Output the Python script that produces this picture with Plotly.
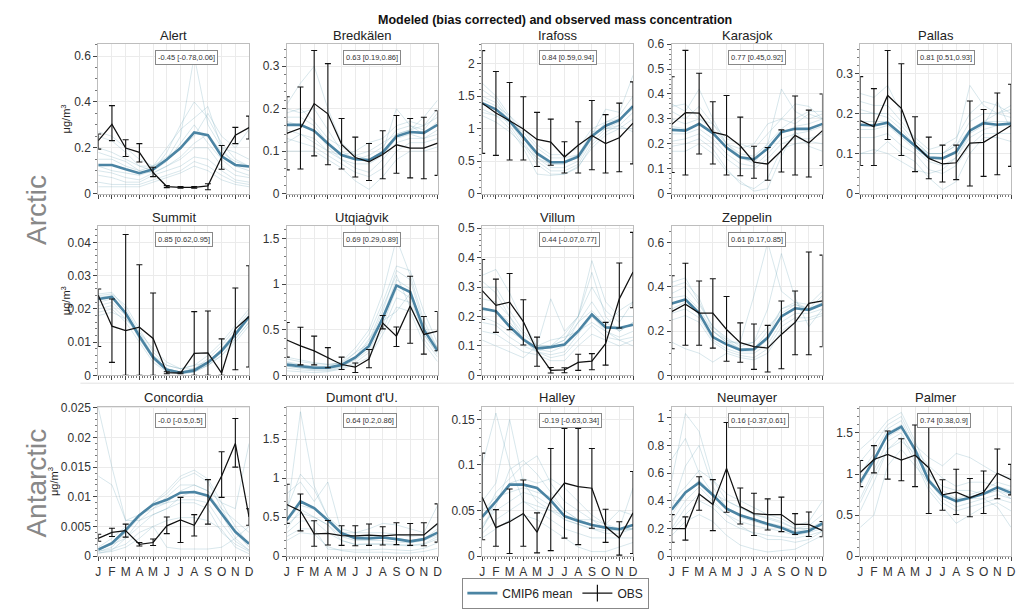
import plotly.graph_objects as go

W, H = 1019, 612
months = list(range(1, 13))
month_labels = ["J", "F", "M", "A", "M", "J", "J", "A", "S", "O", "N", "D"]

# ---------------- data ----------------
alert_obs = [0.231, 0.302, 0.199, 0.18, 0.092, 0.031, 0.027, 0.027, 0.034, 0.16, 0.255, 0.288]
alert_lo = [0.194, 0.231, 0.162, 0.138, 0.074, 0.026, 0.024, 0.024, 0.017, 0.106, 0.218, 0.238]
alert_hi = [0.26, 0.384, 0.235, 0.218, 0.115, 0.035, 0.031, 0.031, 0.043, 0.21, 0.289, 0.338]
alert_mean = [0.125, 0.125, 0.106, 0.089, 0.106, 0.149, 0.199, 0.267, 0.255, 0.163, 0.125, 0.118]
alert_models = [
    [.27, .25, .2, .15, .12, .15, .25, .6, .3, .2, .18, .15],
    [.25, .23, .18, .12, .1, .18, .3, .4, .33, .22, .15, .12],
    [.2, .18, .15, .12, .12, .2, .28, .33, .38, .2, .12, .1],
    [.15, .15, .12, .1, .12, .16, .2, .25, .35, .25, .2, .28],
    [.12, .1, .09, .08, .1, .14, .22, .3, .22, .15, .1, .08],
    [.1, .09, .07, .06, .09, .12, .15, .2, .2, .12, .08, .07],
    [.08, .07, .05, .05, .08, .1, .12, .16, .15, .1, .06, .05],
    [.05, .04, .04, .04, .06, .08, .1, .14, .12, .08, .05, .04],
    [.03, .03, .03, .03, .05, .07, .09, .12, .1, .06, .04, .03],
    [.18, .16, .14, .1, .09, .12, .16, .22, .26, .18, .14, .12],
]

bred_obs = [0.142, 0.154, 0.212, 0.188, 0.116, 0.085, 0.075, 0.092, 0.115, 0.107, 0.107, 0.119]
bred_lo = [0.056, 0.058, 0.089, 0.068, 0.058, 0.039, 0.031, 0.035, 0.048, 0.037, 0.035, 0.043]
bred_hi = [0.228, 0.251, 0.337, 0.306, 0.177, 0.133, 0.118, 0.148, 0.184, 0.177, 0.18, 0.195]
bred_mean = [0.162, 0.162, 0.148, 0.118, 0.091, 0.081, 0.079, 0.097, 0.135, 0.145, 0.143, 0.162]
bred_models = [
    [.21, .26, .3, .2, .12, .09, .08, .1, .14, .15, .18, .22],
    [.2, .19, .2, .15, .1, .08, .08, .1, .2, .16, .15, .19],
    [.18, .18, .16, .12, .09, .08, .09, .11, .15, .16, .14, .17],
    [.17, .16, .15, .11, .08, .07, .07, .09, .13, .14, .13, .15],
    [.15, .14, .13, .1, .08, .06, .05, .08, .12, .13, .13, .14],
    [.13, .12, .11, .09, .07, .05, .04, .06, .1, .12, .12, .13],
    [.1, .1, .1, .08, .06, .03, .01, .04, .08, .1, .1, .11],
    [.12, .14, .12, .1, .09, .1, .12, .13, .16, .17, .16, .18],
    [.19, .2, .17, .13, .11, .09, .1, .12, .14, .15, .16, .2],
]

ira_obs = [1.392, 1.241, 1.12, 0.995, 0.834, 0.794, 0.563, 0.744, 0.894, 0.769, 0.859, 1.085]
ira_lo = [0.62, 0.588, 0.518, 0.518, 0.417, 0.437, 0.317, 0.317, 0.367, 0.317, 0.337, 0.457]
ira_hi = [2.2, 1.88, 1.71, 1.49, 1.25, 1.146, 0.799, 1.106, 1.432, 1.216, 1.392, 1.719]
ira_mean = [1.39, 1.297, 1.12, 0.87, 0.618, 0.482, 0.482, 0.568, 0.884, 1.045, 1.131, 1.347]
ira_models = [
    [1.7, 1.5, 1.2, .9, .6, .45, .45, .6, .9, 1.3, 1.25, 1.82],
    [1.6, 1.45, 1.15, .85, .55, .4, .4, .5, .85, 1.1, 1.2, 1.5],
    [1.5, 1.4, 1.1, .8, .5, .35, .35, .45, .8, 1.0, 1.1, 1.35],
    [1.4, 1.3, 1.05, .75, .45, .3, .3, .4, .75, .95, 1.05, 1.25],
    [1.3, 1.2, 1.0, .7, .3, .28, .3, .42, .7, .9, 1.0, 1.15],
    [1.25, 1.2, 1.1, .95, .7, .55, .55, .6, .95, 1.0, 1.0, 1.0],
    [1.45, 1.35, 1.2, 1.0, .75, .6, .6, .7, 1.0, 1.1, 1.15, 1.3],
    [1.2, 1.1, .95, .75, .55, .45, .5, .6, .9, 1.0, 1.05, .95],
]

kara_obs = [0.278, 0.325, 0.323, 0.247, 0.234, 0.192, 0.126, 0.119, 0.172, 0.234, 0.203, 0.253]
kara_lo = [0.085, 0.075, 0.159, 0.119, 0.075, 0.072, 0.062, 0.054, 0.087, 0.075, 0.067, 0.113]
kara_hi = [0.469, 0.575, 0.483, 0.369, 0.394, 0.307, 0.19, 0.185, 0.256, 0.392, 0.335, 0.4]
kara_mean = [0.256, 0.253, 0.28, 0.243, 0.185, 0.146, 0.138, 0.181, 0.247, 0.26, 0.26, 0.28]
kara_models = [
    [.36, .33, .42, .3, .2, .15, .12, .2, .42, .33, .3, .32],
    [.33, .3, .35, .28, .22, .2, .18, .24, .3, .36, .35, .3],
    [.3, .28, .3, .26, .2, .16, .15, .2, .26, .3, .33, .33],
    [.27, .26, .28, .24, .18, .14, .13, .18, .24, .27, .28, .3],
    [.24, .24, .26, .22, .16, .12, .11, .16, .22, .24, .25, .27],
    [.21, .22, .24, .2, .14, .1, .1, .14, .2, .22, .22, .24],
    [.19, .2, .22, .18, .1, .04, .02, .06, .18, .2, .21, .2],
    [.17, .17, .2, .16, .09, .05, .01, .02, .15, .25, .19, .17],
    [.35, .36, .3, .28, .2, .18, .2, .28, .3, .28, .32, .3],
]

pal_obs = [0.182, 0.167, 0.245, 0.213, 0.123, 0.088, 0.074, 0.077, 0.126, 0.128, 0.149, 0.17]
pal_lo = [0.07, 0.07, 0.135, 0.095, 0.055, 0.037, 0.029, 0.035, 0.019, 0.043, 0.047, 0.068]
pal_hi = [0.292, 0.262, 0.357, 0.324, 0.192, 0.141, 0.121, 0.121, 0.231, 0.21, 0.251, 0.273]
pal_mean = [0.172, 0.17, 0.177, 0.148, 0.118, 0.09, 0.088, 0.104, 0.157, 0.176, 0.172, 0.175]
pal_models = [
    [.25, .24, .27, .2, .13, .1, .1, .13, .27, .22, .2, .22],
    [.23, .22, .22, .18, .14, .11, .12, .14, .2, .23, .22, .2],
    [.2, .2, .2, .17, .13, .1, .1, .12, .18, .2, .2, .19],
    [.18, .18, .18, .15, .12, .09, .09, .1, .16, .18, .18, .18],
    [.16, .16, .17, .14, .11, .08, .07, .09, .14, .16, .17, .17],
    [.14, .14, .15, .12, .1, .06, .05, .07, .12, .15, .15, .15],
    [.1, .1, .13, .1, .08, .04, .01, .03, .1, .14, .14, .13],
    [.1, .11, .1, .08, .06, .05, .06, .09, .15, .17, .23, .16],
    [.21, .2, .19, .16, .12, .1, .1, .12, .16, .18, .2, .21],
]

sum_obs = [0.0241, 0.0148, 0.0135, 0.0145, 0.0111, 0.0008, 0.0007, 0.0066, 0.0068, 0.0007, 0.014, 0.0177]
sum_lo = [0.0087, 0.0039, 0.0, 0.0, 0.0, 0.0005, 0.0005, 0.0, 0.0, 0.0, 0.0017, 0.0025]
sum_hi = [0.026, 0.023, 0.0424, 0.0333, 0.0248, 0.0011, 0.001, 0.0192, 0.0194, 0.011, 0.0263, 0.033]
sum_mean = [0.023, 0.0236, 0.0187, 0.0118, 0.0054, 0.0017, 0.0008, 0.0015, 0.0039, 0.0074, 0.0123, 0.0177]
sum_models = [
    [.0245, .025, .02, .013, .006, .002, .001, .002, .005, .009, .014, .019],
    [.024, .0245, .021, .014, .007, .003, .002, .003, .006, .01, .015, .02],
    [.022, .023, .019, .012, .006, .002, .001, .002, .004, .008, .013, .018],
    [.021, .022, .018, .011, .005, .001, .0005, .001, .003, .006, .011, .016],
    [.02, .021, .017, .012, .006, .003, .002, .003, .004, .007, .012, .017],
    [.019, .02, .016, .01, .004, .001, .0005, .001, .003, .006, .01, .015],
    [.0235, .024, .019, .011, .005, .002, .001, .001, .004, .008, .013, .0175],
    [.018, .019, .017, .013, .008, .004, .002, .002, .003, .007, .011, .016],
]

utq_obs = [0.388, 0.323, 0.269, 0.19, 0.119, 0.09, 0.179, 0.574, 0.431, 0.761, 0.449, 0.485]
utq_lo = [0.2, 0.115, 0.115, 0.083, 0.065, 0.032, 0.083, 0.51, 0.316, 0.352, 0.233, 0.27]
utq_hi = [0.58, 0.528, 0.431, 0.305, 0.2, 0.136, 0.284, 0.657, 0.531, 1.088, 0.646, 0.7]
utq_mean = [0.118, 0.097, 0.083, 0.083, 0.115, 0.197, 0.323, 0.628, 0.987, 0.915, 0.502, 0.269]
utq_models = [
    [.15, .12, .1, .1, .15, .3, .5, .9, 1.5, 1.1, .6, .3],
    [.2, .17, .14, .12, .14, .25, .45, .8, 1.2, 1.15, .7, .35],
    [.14, .11, .09, .09, .12, .25, .35, .7, 1.15, 1.05, .55, .3],
    [.12, .1, .08, .08, .11, .2, .3, .65, 1.05, .95, .5, .27],
    [.1, .08, .07, .07, .1, .17, .28, .55, .95, .85, .45, .23],
    [.08, .06, .05, .05, .08, .14, .25, .5, .85, .8, .4, .2],
    [.05, .04, .03, .04, .07, .12, .2, .45, .75, .7, .35, .15],
    [.18, .15, .13, .12, .13, .2, .4, .6, .7, .9, .5, .3],
    [.1, .08, .06, .06, .09, .18, .38, .75, 1.1, .75, .45, .25],
]

vil_obs = [0.288, 0.238, 0.249, 0.183, 0.083, 0.017, 0.019, 0.044, 0.048, 0.108, 0.26, 0.351]
vil_lo = [0.19, 0.146, 0.155, 0.103, 0.031, 0.008, 0.009, 0.017, 0.019, 0.035, 0.161, 0.23]
vil_hi = [0.394, 0.327, 0.346, 0.257, 0.13, 0.027, 0.026, 0.072, 0.074, 0.18, 0.382, 0.486]
vil_mean = [0.227, 0.218, 0.166, 0.122, 0.092, 0.096, 0.105, 0.15, 0.207, 0.163, 0.161, 0.172]
vil_models = [
    [.34, .36, .28, .18, .1, .1, .12, .2, .39, .25, .2, .2],
    [.3, .3, .22, .15, .1, .26, .15, .2, .35, .2, .15, .18],
    [.26, .25, .2, .14, .1, .1, .14, .2, .3, .22, .18, .25],
    [.22, .22, .18, .13, .09, .08, .1, .18, .25, .18, .15, .18],
    [.2, .18, .15, .12, .08, .07, .08, .14, .2, .15, .13, .15],
    [.18, .17, .13, .1, .08, .06, .07, .12, .17, .13, .12, .13],
    [.15, .14, .11, .08, .07, .05, .05, .1, .14, .12, .1, .12],
    [.12, .1, .08, .06, .1, .12, .13, .15, .18, .15, .12, .1],
    [.32, .28, .2, .12, .08, .1, .12, .18, .22, .17, .22, .25],
]

zep_obs = [0.288, 0.321, 0.281, 0.281, 0.207, 0.148, 0.13, 0.123, 0.185, 0.239, 0.325, 0.336]
zep_lo = [0.12, 0.136, 0.136, 0.123, 0.064, 0.059, 0.027, 0.015, 0.03, 0.093, 0.093, 0.129]
zep_hi = [0.45, 0.506, 0.426, 0.436, 0.356, 0.237, 0.232, 0.226, 0.336, 0.381, 0.557, 0.543]
zep_mean = [0.325, 0.343, 0.281, 0.173, 0.14, 0.115, 0.118, 0.17, 0.266, 0.303, 0.296, 0.321]
zep_models = [
    [.4, .42, .35, .2, .15, .15, .36, .6, .38, .33, .3, .33],
    [.37, .4, .32, .22, .17, .13, .15, .3, .55, .35, .22, .3],
    [.35, .36, .3, .2, .15, .12, .12, .2, .3, .32, .3, .36],
    [.32, .34, .28, .18, .14, .11, .11, .16, .27, .3, .3, .32],
    [.28, .3, .26, .16, .12, .1, .1, .14, .24, .28, .28, .3],
    [.25, .27, .24, .15, .11, .09, .08, .12, .22, .26, .26, .28],
    [.15, .12, .1, .06, .1, .08, .07, .1, .2, .24, .25, .27],
    [.42, .44, .33, .22, .16, .12, .12, .18, .3, .33, .32, .38],
    [.3, .33, .28, .2, .16, .14, .15, .22, .28, .32, .3, .32],
]

con_obs = [0.003, 0.004, 0.0043, 0.002, 0.0023, 0.0051, 0.0061, 0.0052, 0.0091, 0.0135, 0.019, 0.0066]
con_lo = [0.0025, 0.0033, 0.0032, 0.0017, 0.0018, 0.0038, 0.0023, 0.0034, 0.0054, 0.0099, 0.015, 0.0052]
con_hi = [0.0037, 0.0047, 0.0054, 0.0023, 0.0029, 0.0066, 0.0099, 0.007, 0.0129, 0.0176, 0.0232, 0.008]
con_mean = [0.0011, 0.0022, 0.0044, 0.0069, 0.0087, 0.0095, 0.0107, 0.0108, 0.0102, 0.0072, 0.0041, 0.0021]
con_models = [
    [.025, .015, .006, .006, .007, .008, .01, .011, .01, .008, .006, .004],
    [.0135, .012, .006, .007, .008, .009, .011, .012, .011, .009, .008, .019],
    [.001, .002, .004, .007, .009, .011, .0135, .0145, .013, .009, .005, .002],
    [.0008, .0015, .004, .0065, .009, .0105, .013, .014, .0125, .008, .004, .0015],
    [.0005, .001, .003, .006, .008, .01, .012, .012, .011, .007, .003, .001],
    [.0015, .003, .005, .007, .0085, .009, .0095, .0095, .009, .0055, .0025, .001],
    [.001, .002, .003, .005, .007, .008, .009, .009, .008, .004, .002, .0008],
    [.0005, .0008, .0015, .003, .005, .006, .0065, .0065, .006, .0045, .0015, .0004],
    [.0008, .0012, .002, .004, .005, .0015, .0012, .0012, .0012, .0015, .003, .005],
]

dum_obs = [0.662, 0.578, 0.285, 0.293, 0.264, 0.26, 0.268, 0.26, 0.272, 0.272, 0.272, 0.419]
dum_lo = [0.42, 0.323, 0.126, 0.143, 0.138, 0.134, 0.138, 0.143, 0.147, 0.138, 0.134, 0.18]
dum_hi = [0.92, 0.796, 0.453, 0.457, 0.39, 0.39, 0.411, 0.377, 0.428, 0.419, 0.428, 0.67]
dum_mean = [0.461, 0.7, 0.616, 0.461, 0.293, 0.231, 0.226, 0.239, 0.218, 0.189, 0.218, 0.302]
dum_models = [
    [.5, 1.85, .9, .5, .3, .25, .25, .25, .22, .2, .22, .35],
    [.6, 1.05, .85, .5, .35, .3, .3, .3, .28, .25, .27, .4],
    [.8, .95, .7, .95, .3, .3, .35, .42, .4, .35, .3, .65],
    [.45, .65, .6, .45, .3, .25, .24, .25, .23, .2, .22, .3],
    [.4, .55, .5, .4, .25, .2, .2, .2, .18, .17, .2, .27],
    [.3, .45, .45, .3, .2, .15, .15, .15, .14, .13, .15, .22],
    [.25, .35, .35, .09, .08, .08, .08, .09, .08, .07, .1, .17],
    [.2, .3, .28, .12, .07, .05, .05, .05, .04, .04, .06, .1],
    [.35, .6, .5, .4, .2, .15, .16, .16, .15, .14, .16, .25],
]

hal_obs = [0.0647, 0.0313, 0.0378, 0.0468, 0.0263, 0.0612, 0.0802, 0.0763, 0.0745, 0.0324, 0.0198, 0.0475]
hal_lo = [0.018, 0.0108, 0.0029, 0.0108, 0.0036, 0.0061, 0.0198, 0.0126, 0.0306, 0.0151, 0.0011, 0.0029]
hal_hi = [0.113, 0.051, 0.0737, 0.0835, 0.0475, 0.118, 0.14, 0.14, 0.118, 0.0514, 0.0378, 0.0928]
hal_mean = [0.0432, 0.06, 0.0784, 0.0784, 0.0748, 0.0612, 0.0439, 0.0385, 0.0342, 0.0313, 0.0295, 0.0342]
hal_models = [
    [.1, .157, .1, .06, .05, .04, .03, .025, .02, .02, .02, .02],
    [.06, .08, .15, .08, .06, .05, .04, .035, .03, .025, .025, .03],
    [.04, .07, .085, .1, .11, .08, .06, .05, .04, .03, .03, .075],
    [.03, .06, .08, .085, .08, .085, .075, .06, .045, .035, .03, .03],
    [.05, .065, .07, .075, .07, .065, .05, .04, .035, .03, .03, .035],
    [.035, .05, .06, .07, .065, .055, .04, .035, .03, .028, .028, .03],
    [.025, .04, .05, .06, .055, .05, .045, .04, .035, .03, .03, .03],
    [.02, .03, .04, .045, .04, .03, .02, .01, .005, .005, .01, .015],
    [.03, .055, .095, .105, .09, .07, .05, .04, .04, .035, .05, .045],
]

neu_obs = [0.199, 0.199, 0.449, 0.374, 0.634, 0.359, 0.307, 0.3, 0.3, 0.229, 0.229, 0.184]
neu_lo = [0.1, 0.116, 0.331, 0.184, 0.317, 0.232, 0.149, 0.189, 0.177, 0.156, 0.142, 0.14]
neu_hi = [0.3, 0.284, 0.574, 0.553, 0.965, 0.492, 0.454, 0.414, 0.426, 0.307, 0.319, 0.25]
neu_mean = [0.336, 0.461, 0.53, 0.442, 0.343, 0.296, 0.265, 0.232, 0.206, 0.165, 0.182, 0.236]
neu_models = [
    [.55, 1.03, .9, .55, .4, .35, .3, .28, .25, .2, .22, .3],
    [.7, .85, .6, .45, .4, .35, .3, .27, .24, .2, .2, .25],
    [.35, .65, .8, .5, .35, .3, .27, .24, .22, .18, .2, .22],
    [.4, .5, .62, .55, .45, .4, .35, .3, .27, .22, .25, .4],
    [.3, .45, .55, .45, .35, .28, .25, .22, .2, .16, .18, .24],
    [.2, .35, .45, .38, .3, .25, .22, .2, .18, .15, .17, .2],
    [.18, .3, .4, .35, .25, .2, .17, .15, .14, .13, .15, .18],
    [.15, .25, .3, .25, .15, .08, .05, .03, .04, .05, .1, .15],
    [.25, .4, .5, .4, .3, .22, .16, .12, .12, .1, .12, .18],
]

palm_obs = [1.018, 1.177, 1.237, 1.169, 1.229, 1.077, 0.746, 0.778, 0.71, 0.778, 1.01, 0.93]
palm_lo = [0.846, 1.014, 0.938, 0.918, 0.846, 0.519, 0.559, 0.507, 0.479, 0.519, 0.698, 0.746]
palm_hi = [1.165, 1.345, 1.524, 1.429, 1.596, 1.596, 0.93, 1.057, 0.946, 1.037, 1.305, 1.117]
palm_mean = [0.898, 1.169, 1.484, 1.576, 1.297, 0.918, 0.738, 0.67, 0.71, 0.758, 0.838, 0.77]
palm_models = [
    [1.3, 1.45, 1.65, 1.75, 1.4, 1.0, .8, .7, .75, .8, .9, .85],
    [1.15, 1.35, 1.6, 1.7, 1.35, 1.2, 1.1, 1.25, 1.2, 1.1, 1.0, .95],
    [1.0, 1.25, 1.55, 1.65, 1.3, .95, .75, .65, .7, .75, .8, .75],
    [.85, 1.15, 1.5, 1.6, 1.25, .9, .7, .6, .65, .7, .75, .7],
    [.7, 1.05, 1.4, 1.5, 1.2, .85, .65, .55, .6, .65, .7, .65],
    [.55, .9, 1.3, 1.45, 1.15, .8, .6, .4, .5, .6, .65, .55],
    [.35, .5, 1.1, 1.3, 1.1, .9, .75, .7, .7, .7, .6, .35],
    [.9, 1.2, 1.45, 1.55, 1.3, 1.1, .95, .85, .9, .9, .85, .8],
    [.65, 1.0, 1.3, 1.4, 1.25, 1.0, .85, .8, .8, .75, .8, .7],
]

station_names = ["Alert", "Bredkälen", "Irafoss", "Karasjok", "Pallas",
                 "Summit", "Utqiaġvik", "Villum", "Zeppelin",
                 "Concordia", "Dumont d'U.", "Halley", "Neumayer", "Palmer"]
corr_labels = ["-0.45 [-0.78,0.06]", "0.63 [0.19,0.86]", "0.84 [0.59,0.94]",
               "0.77 [0.45,0.92]", "0.81 [0.51,0.93]", "0.85 [0.62,0.95]",
               "0.69 [0.29,0.89]", "0.44 [-0.07,0.77]", "0.61 [0.17,0.85]",
               "-0.0 [-0.5,0.5]", "0.64 [0.2,0.86]", "-0.19 [-0.63,0.34]",
               "0.16 [-0.37,0.61]", "0.74 [0.38,0.9]"]
y_max = [0.652, 0.352, 2.30, 0.60, 0.373, 0.045, 1.64, 0.508, 0.675,
         0.0252, 1.915, 0.164, 1.08, 1.82]
y_dtick = [0.2, 0.1, 0.5, 0.1, 0.1, 0.01, 0.5, 0.1, 0.2, 0.005, 0.5, 0.05, 0.2, 0.5]

obs_list = [alert_obs, bred_obs, ira_obs, kara_obs, pal_obs, sum_obs, utq_obs, vil_obs,
            zep_obs, con_obs, dum_obs, hal_obs, neu_obs, palm_obs]
lo_list = [alert_lo, bred_lo, ira_lo, kara_lo, pal_lo, sum_lo, utq_lo, vil_lo,
           zep_lo, con_lo, dum_lo, hal_lo, neu_lo, palm_lo]
hi_list = [alert_hi, bred_hi, ira_hi, kara_hi, pal_hi, sum_hi, utq_hi, vil_hi,
           zep_hi, con_hi, dum_hi, hal_hi, neu_hi, palm_hi]
mean_list = [alert_mean, bred_mean, ira_mean, kara_mean, pal_mean, sum_mean, utq_mean,
             vil_mean, zep_mean, con_mean, dum_mean, hal_mean, neu_mean, palm_mean]
models_list = [alert_models, bred_models, ira_models, kara_models, pal_models, sum_models,
               utq_models, vil_models, zep_models, con_models, dum_models, hal_models,
               neu_models, palm_models]

# ---------------- layout geometry (pixels) ----------------
col_left = [96, 286, 483, 674, 864]
row_top = [38, 224, 409]
ylabel_x = [63, 63, 51]
PW, PH = 152, 153
positions = [(0, 0), (0, 1), (0, 2), (0, 3), (0, 4),
             (1, 0), (1, 1), (1, 2), (1, 3),
             (2, 0), (2, 1), (2, 2), (2, 3), (2, 4)]

MEAN_COLOR = "#4b84a3"
MODEL_COLOR = "rgba(120,170,188,0.36)"
FONT = "Liberation Sans, Arial, sans-serif"


def px(x):
    return x / W


def py(y):
    return 1 - y / H


fig = go.Figure()
layout = dict(width=W, height=H, margin=dict(l=0, r=0, t=0, b=0),
              paper_bgcolor="white", plot_bgcolor="white",
              font=dict(family=FONT, size=12, color="#222"),
              showlegend=True)
annotations = []

for i, name in enumerate(station_names):
    k = i + 1
    r, c = positions[i]
    left, top = col_left[c], row_top[r]
    xa = "xaxis" if k == 1 else f"xaxis{k}"
    ya = "yaxis" if k == 1 else f"yaxis{k}"
    xr = "x" if k == 1 else f"x{k}"
    yr = "y" if k == 1 else f"y{k}"

    for m in models_list[i]:
        fig.add_trace(go.Scatter(x=months, y=m, mode="lines", xaxis=xr, yaxis=yr,
                                 line=dict(color=MODEL_COLOR, width=0.8),
                                 showlegend=False, hoverinfo="skip"))
    fig.add_trace(go.Scatter(x=months, y=mean_list[i], mode="lines", xaxis=xr, yaxis=yr,
                             name="CMIP6 mean", legendgroup="mean",
                             line=dict(color=MEAN_COLOR, width=2.6),
                             showlegend=(i == 0)))
    obs = obs_list[i]
    plus = [h - o for h, o in zip(hi_list[i], obs)]
    minus = [o - l for o, l in zip(obs, lo_list[i])]
    fig.add_trace(go.Scatter(x=months, y=obs, mode="lines", xaxis=xr, yaxis=yr,
                             name="OBS", line=dict(color="#111", width=1.25),
                             error_y=dict(type="data", array=plus, arrayminus=minus,
                                          color="#111", thickness=1.1, width=3),
                             showlegend=False))

    layout[xa] = dict(domain=[px(left), px(left + PW)], anchor=yr, range=[1, 12],
                      tickmode="array", tickvals=months, ticktext=month_labels,
                      showticklabels=(r == 2), ticks="outside", ticklen=4,
                      tickcolor="#444", showline=True, linecolor="#bdbdbd",
                      mirror=True, showgrid=True, gridcolor="#ebebeb", gridwidth=1,
                      zeroline=False, tickfont=dict(size=12, color="#333"),
                      minor=dict(tickmode="linear", tick0=1, dtick=0.2, ticks="outside",
                                 ticklen=2, tickcolor="#777", showgrid=False))
    layout[ya] = dict(domain=[py(top + PH), py(top)], anchor=xr, range=[0, y_max[i]],
                      dtick=y_dtick[i], tick0=0, ticks="outside", ticklen=4,
                      tickcolor="#444", showline=True, linecolor="#bdbdbd", mirror=True,
                      showgrid=True, gridcolor="#ebebeb", zeroline=False,
                      tickfont=dict(size=12, color="#333"),
                      minor=dict(nticks=5, ticks="outside", ticklen=2, tickcolor="#777",
                                 showgrid=False))

    annotations.append(dict(x=px(left + PW / 2), y=py(top - 9), xref="paper", yref="paper",
                            text=name, showarrow=False, xanchor="center", yanchor="middle",
                            font=dict(size=13, color="#222")))
    annotations.append(dict(x=px(left + 57), y=py(top + 14), xref="paper", yref="paper",
                            text=corr_labels[i], showarrow=False, xanchor="left",
                            yanchor="middle", font=dict(size=7.5, color="#333"),
                            bordercolor="#888", borderwidth=1, borderpad=2,
                            bgcolor="white"))
    if c == 0:
        annotations.append(dict(x=px(ylabel_x[r]), y=py(top + PH / 2), xref="paper",
                                yref="paper", text="μg/m<sup>3</sup>", showarrow=False,
                                textangle=-90, xanchor="center", yanchor="middle",
                                font=dict(size=11, color="#222")))

# legend-only OBS entry (line with vertical error mark)
fig.add_trace(go.Scatter(x=[None], y=[None], mode="lines+markers", name="OBS",
                         line=dict(color="#111", width=1.2),
                         marker=dict(symbol="line-ns-open", size=12,
                                     line=dict(color="#111", width=1.2)),
                         showlegend=True))

annotations.append(dict(x=px(556), y=py(13), xref="paper", yref="paper",
                        text="<b>Modeled (bias corrected) and observed mass concentration</b>",
                        showarrow=False, xanchor="center", yanchor="middle",
                        font=dict(size=12.5, color="#111")))
annotations.append(dict(x=px(34), y=py(208), xref="paper", yref="paper", text="Arctic",
                        showarrow=False, textangle=-90, xanchor="center", yanchor="middle",
                        font=dict(size=28, color="#888888")))
annotations.append(dict(x=px(34), y=py(487), xref="paper", yref="paper", text="Antarctic",
                        showarrow=False, textangle=-90, xanchor="center", yanchor="middle",
                        font=dict(size=28, color="#888888")))

layout["annotations"] = annotations
layout["shapes"] = [dict(type="line", xref="paper", yref="paper",
                         x0=px(78), x1=1, y0=py(385), y1=py(385),
                         line=dict(color="#e3e3e3", width=1))]
layout["legend"] = dict(orientation="h", x=px(463), y=py(584), xanchor="left",
                        yanchor="top", bordercolor="#888", borderwidth=1,
                        bgcolor="white", font=dict(size=12, color="#222"),
                        itemwidth=30, tracegroupgap=0)
fig.update_layout(**layout)
fig.write_html("out.html")
